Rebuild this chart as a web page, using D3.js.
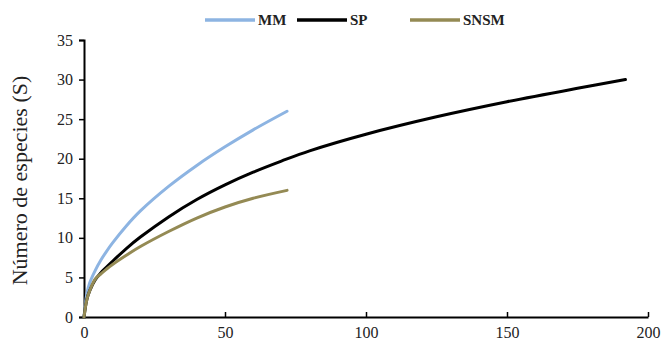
<!DOCTYPE html>
<html>
<head>
<meta charset="utf-8">
<script src="https://cdn.jsdelivr.net/npm/d3@7"></script>
<style>
  body { margin: 0; background: #fff; }
  svg text { font-family: "Liberation Serif", serif; fill: #222; }
</style>
</head>
<body>
<div id="chart"></div>
<script>
// series names + values
const seriesNames = ['MM', 'SP', 'SNSM'];
const seriesColors = ['#8db4e2', '#000000', '#948a54'];

const mmX = [0, 1, 2, 4, 6, 8, 10, 15, 20, 30, 40, 50, 60, 72];
const mmY = [0, 2.9, 4.3, 5.9, 7.2, 8.3, 9.3, 11.5, 13.4, 16.5, 19.15, 21.5, 23.65, 26.0];

const spX = [0, 1, 2, 4, 6, 8, 10, 15, 20, 30, 40, 50, 60, 70, 80, 100, 125, 150, 175, 192];
const spY = [0, 2.2, 3.3, 4.7, 5.6, 6.3, 7.0, 8.65, 10.1, 12.65, 14.85, 16.7, 18.3, 19.7, 21.0, 23.1, 25.3, 27.2, 28.9, 30.0];

const snsmX = [0, 1, 2, 4, 6, 8, 10, 15, 20, 30, 40, 50, 60, 72];
const snsmY = [0, 2.2, 3.3, 4.8, 5.45, 6.05, 6.6, 7.8, 8.9, 10.8, 12.5, 13.9, 15.0, 16.0];

const xTicks = [0, 50, 100, 150, 200];
const yTicks = [0, 5, 10, 15, 20, 25, 30, 35];
const yTitle = 'Número de especies (S)';

const W = 664, H = 349;
const margin = {top: 40, right: 16, bottom: 32, left: 84};
const serif = '"Liberation Serif", serif';

const svg = d3.select('#chart').append('svg')
  .attr('width', W)
  .attr('height', H);

const x = d3.scaleLinear().domain([0, 200]).range([margin.left, W - margin.right]);
const y = d3.scaleLinear().domain([0, 35]).range([H - margin.bottom, margin.top]);

// y axis, ticks outside
const yAxis = svg.append('g')
  .attr('transform', 'translate(' + margin.left + ',0)')
  .call(d3.axisLeft(y).tickValues(yTicks).tickSize(5).tickPadding(6));

// x axis, ticks pointing up into the plot
const xAxis = svg.append('g')
  .attr('transform', 'translate(0,' + y(0) + ')')
  .call(d3.axisBottom(x).tickValues(xTicks).tickSize(0).tickPadding(10));

xAxis.selectAll('.tick line').remove();
xAxis.selectAll('.tick').filter(d => d !== 0)
  .append('line')
  .attr('y1', 0).attr('y2', -5);

[xAxis, yAxis].forEach(a => {
  a.attr('font-family', serif).attr('font-size', 16);
  a.select('.domain').attr('stroke', '#000').attr('stroke-width', 2);
  a.selectAll('.tick line').attr('stroke', '#000').attr('stroke-width', 1.5);
  a.selectAll('.tick text').attr('fill', '#222');
});

svg.append('text')
  .attr('transform', 'translate(27,' + ((y(0) + y(35)) / 2 + 2) + ') rotate(-90)')
  .attr('text-anchor', 'middle')
  .attr('font-family', serif)
  .attr('font-size', 22)
  .text(yTitle);

const series = [
  {name: seriesNames[0], color: seriesColors[0], pts: mmX.map((v, i) => [v, mmY[i]])},
  {name: seriesNames[1], color: seriesColors[1], pts: spX.map((v, i) => [v, spY[i]])},
  {name: seriesNames[2], color: seriesColors[2], pts: snsmX.map((v, i) => [v, snsmY[i]])}
];

const line = d3.line()
  .x(d => x(d[0]))
  .y(d => y(d[1]))
  .curve(d3.curveCatmullRom.alpha(0.5));

svg.append('g').selectAll('path')
  .data(series)
  .enter()
  .append('path')
  .attr('d', d => line(d.pts))
  .attr('fill', 'none')
  .attr('stroke', d => d.color)
  .attr('stroke-width', 3)
  .attr('stroke-linecap', 'round')
  .attr('stroke-linejoin', 'round');

// legend
const legendX = [205, 297, 410];
const legend = svg.append('g').selectAll('g')
  .data(series)
  .enter()
  .append('g')
  .attr('transform', (d, i) => 'translate(' + legendX[i] + ',20)');

legend.append('line')
  .attr('x1', 0).attr('x2', 50)
  .attr('stroke', d => d.color)
  .attr('stroke-width', 3.5);

legend.append('text')
  .attr('x', 53)
  .attr('dy', '0.35em')
  .attr('font-family', serif)
  .attr('font-size', 15)
  .attr('font-weight', 'bold')
  .text(d => d.name);
</script>
</body>
</html>
